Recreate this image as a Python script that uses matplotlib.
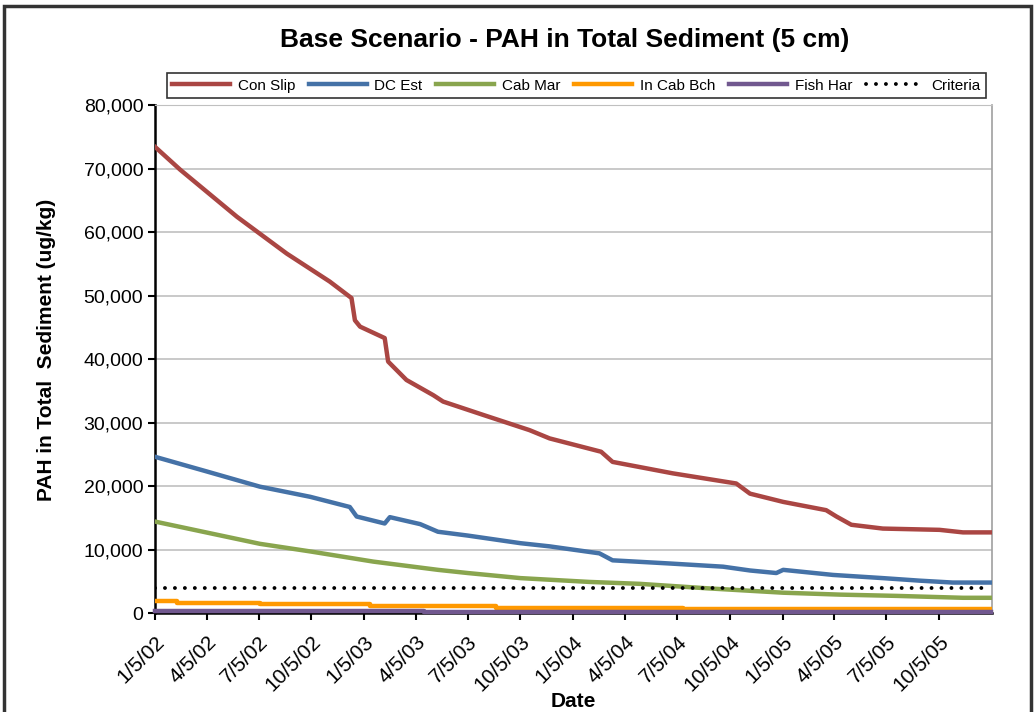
"""Base scenario PAH concentrations in total sediment (5 cm layer)."""

import matplotlib

matplotlib.use("Agg")

import matplotlib.dates as mdates
import matplotlib.pyplot as plt
import pandas as pd
from matplotlib.patches import Rectangle
from matplotlib.ticker import FuncFormatter, MultipleLocator

plt.rcParams["font.family"] = ["Liberation Sans", "DejaVu Sans"]

# Con Slip (red)
con_slip_dates = [
    "2002-01-05", "2002-02-18", "2002-05-28", "2002-08-23", "2002-11-06",
    "2002-12-14", "2002-12-20", "2002-12-29", "2003-02-10", "2003-02-16",
    "2003-03-20", "2003-05-06", "2003-05-23", "2003-08-01", "2003-10-21",
    "2003-11-25", "2004-02-23", "2004-03-14", "2004-06-27", "2004-10-16",
    "2004-11-09", "2005-01-06", "2005-03-22", "2005-04-09", "2005-05-05",
    "2005-06-29", "2005-10-06", "2005-11-16", "2006-01-04",
]
con_slip = [
    73400, 69800, 62400, 56600, 52200,
    49600, 46100, 45100, 43300, 39600,
    36700, 34300, 33300, 31200, 28800,
    27500, 25400, 23800, 22000, 20400,
    18800, 17500, 16200, 15200, 13900,
    13300, 13100, 12700, 12700,
]

# DC Est (blue)
dc_est_dates = [
    "2002-01-05", "2002-04-05", "2002-07-07", "2002-10-03", "2002-12-11",
    "2002-12-23", "2003-02-10", "2003-02-19", "2003-04-13", "2003-05-14",
    "2003-07-05", "2003-10-05", "2003-11-25", "2004-02-20", "2004-03-14",
    "2004-06-22", "2004-09-23", "2004-11-09", "2004-12-25", "2005-01-06",
    "2005-04-03", "2005-06-29", "2005-09-01", "2005-10-29", "2006-01-04",
]
dc_est = [
    24600, 22300, 19900, 18300, 16700,
    15200, 14100, 15100, 14000, 12800,
    12200, 11000, 10500, 9400, 8300,
    7800, 7300, 6700, 6300, 6800,
    6000, 5500, 5100, 4800, 4800,
]

# Cab Mar (green)
cab_mar_dates = [
    "2002-01-05", "2002-07-07", "2002-10-03", "2003-01-21", "2003-05-14",
    "2003-07-05", "2003-10-05", "2004-02-02", "2004-04-30", "2004-08-25",
    "2005-01-06", "2005-04-15", "2005-07-23", "2005-11-16", "2006-01-04",
]
cab_mar = [
    14400, 10900, 9700, 8100, 6800,
    6300, 5500, 4900, 4600, 3900,
    3200, 2900, 2700, 2400, 2400,
]

# In Cab Bch (orange), stepwise
in_cab_bch_dates = [
    "2002-01-05", "2002-02-12", "2002-07-07", "2003-01-15",
    "2003-08-23", "2004-07-15", "2006-01-04",
]
in_cab_bch = [1900, 1600, 1350, 1100, 850, 600, 600]

# Fish Har (purple), stepwise
fish_har_dates = ["2002-01-05", "2003-04-20", "2006-01-04"]
fish_har = [350, 100, 100]

criteria_dates = ["2002-01-05", "2006-01-04"]
criteria = [4000, 4000]

tick_dates = pd.date_range("2002-01-01", periods=16, freq="3MS") + pd.Timedelta(days=4)

fig = plt.figure(figsize=(10.34, 7.12), dpi=100)
ax = fig.add_axes([0.150, 0.139, 0.809, 0.7135])

line_kw = dict(linewidth=3.2, solid_joinstyle="round", zorder=3)
ax.plot(pd.to_datetime(con_slip_dates), con_slip, color="#AA4643", label="Con Slip", **line_kw)
ax.plot(pd.to_datetime(dc_est_dates), dc_est, color="#4572A7", label="DC Est", **line_kw)
ax.plot(pd.to_datetime(cab_mar_dates), cab_mar, color="#89A54E", label="Cab Mar", **line_kw)
ax.plot(pd.to_datetime(in_cab_bch_dates), in_cab_bch, color="#FF9900",
        drawstyle="steps-post", label="In Cab Bch", **line_kw)
ax.plot(pd.to_datetime(fish_har_dates), fish_har, color="#71588F",
        drawstyle="steps-post", label="Fish Har", clip_on=False, **line_kw)
ax.plot(pd.to_datetime(criteria_dates), criteria, color="black", linewidth=2.8,
        linestyle=(0, (0.01, 2.55)), dash_capstyle="round", label="Criteria", zorder=3)

ax.set_xlim(pd.Timestamp("2002-01-05"), pd.Timestamp("2006-01-05"))
ax.set_ylim(0, 80000)
ax.yaxis.set_major_locator(MultipleLocator(10000))
ax.yaxis.set_major_formatter(FuncFormatter(lambda v, _: f"{v:,.0f}"))
ax.set_xticks(tick_dates)
ax.xaxis.set_major_formatter(
    FuncFormatter(lambda v, _: (lambda d: f"{d.month}/{d.day}/{d.strftime('%y')}")(mdates.num2date(v)))
)
for label in ax.get_xticklabels():
    label.set_rotation(45)
    label.set_ha("right")
    label.set_rotation_mode("anchor")

ax.tick_params(axis="both", direction="out", length=5, width=1.5, labelsize=14, colors="black")
ax.tick_params(axis="x", pad=9, labelsize=15)
ax.grid(axis="y", color="#C0C0C0", linewidth=1.2)
ax.set_axisbelow(True)
ax.spines["left"].set_color("black")
ax.spines["left"].set_linewidth(1.8)
ax.spines["bottom"].set_color("black")
ax.spines["bottom"].set_linewidth(1.8)
ax.spines["top"].set_color("#C0C0C0")
ax.spines["right"].set_color("#A0A0A0")
ax.spines["right"].set_linewidth(1.2)

ax.set_ylabel("PAH in Total  Sediment (ug/kg)", fontsize=15, fontweight="bold")
ax.yaxis.set_label_coords(-0.118, 0.518)
ax.set_xlabel("Date", fontsize=15, fontweight="bold")
ax.xaxis.set_label_coords(0.5, -0.155)
fig.text(0.5464, 0.944, "Base Scenario - PAH in Total Sediment (5 cm)",
         ha="center", va="center", fontsize=19, fontweight="bold")

legend = fig.legend(
    loc="center", bbox_to_anchor=(0.5575, 0.8795), ncol=6, fontsize=11,
    frameon=True, fancybox=False, edgecolor="black", handlelength=3.8,
    columnspacing=0.9, handletextpad=0.5, borderpad=0.35,
)
legend.get_frame().set_linewidth(1.2)

fig.patches.append(Rectangle((0.004, -0.05), 0.993, 1.042, transform=fig.transFigure,
                             fill=False, edgecolor="#333333", linewidth=2.5))

fig.savefig("out.png", dpi=100)
